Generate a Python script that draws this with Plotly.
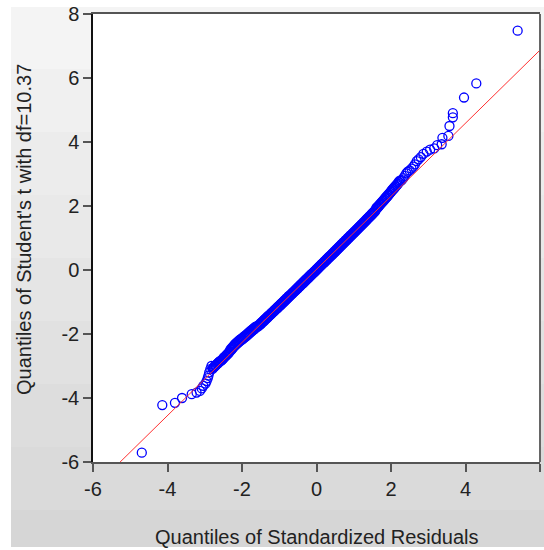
import plotly.graph_objects as go

# ---- data -------------------------------------------------------------
# Lower tail of the QQ plot (standardized residual quantile, t quantile)
lower_x = [-4.69, -4.14, -3.80, -3.61, -3.35, -3.22, -3.13, -3.08, -3.04,
           -2.98, -2.95, -2.92, -2.90, -2.88, -2.85, -2.82]
lower_y = [-5.71, -4.22, -4.15, -4.00, -3.88, -3.83, -3.78, -3.70, -3.62,
           -3.55, -3.47, -3.38, -3.30, -3.20, -3.10, -3.00]

# Dense central part of the QQ plot
body_x = [-2.79, -2.76, -2.72, -2.70, -2.66, -2.63, -2.61, -2.57, -2.53, -2.50,
          -2.48, -2.44, -2.41, -2.38, -2.35, -2.33, -2.29, -2.27, -2.24, -2.21,
          -2.19, -2.16, -2.13, -2.10, -2.07, -2.04, -2.01, -1.98, -1.95, -1.92,
          -1.89, -1.86, -1.83, -1.80, -1.77, -1.74, -1.71, -1.68, -1.65, -1.62,
          -1.59, -1.56, -1.53, -1.50, -1.47, -1.44, -1.41, -1.38, -1.35, -1.32,
          -1.29, -1.26, -1.23, -1.20, -1.17, -1.14, -1.11, -1.08, -1.05, -1.02,
          -0.99, -0.96, -0.93, -0.90, -0.87, -0.84, -0.81, -0.78, -0.75, -0.72,
          -0.69, -0.66, -0.63, -0.60, -0.57, -0.54, -0.51, -0.48, -0.45, -0.42,
          -0.39, -0.36, -0.33, -0.30, -0.27, -0.24, -0.21, -0.18, -0.15, -0.12,
          -0.09, -0.06, -0.03, 0.00, 0.03, 0.06, 0.09, 0.12, 0.15, 0.18,
          0.21, 0.24, 0.27, 0.30, 0.33, 0.36, 0.39, 0.42, 0.45, 0.48,
          0.51, 0.54, 0.57, 0.60, 0.63, 0.66, 0.69, 0.72, 0.75, 0.78,
          0.81, 0.84, 0.87, 0.90, 0.93, 0.96, 0.99, 1.02, 1.05, 1.08,
          1.11, 1.14, 1.17, 1.20, 1.23, 1.26, 1.29, 1.32, 1.35, 1.38,
          1.41, 1.44, 1.47, 1.50, 1.53, 1.56, 1.59, 1.62, 1.65, 1.68,
          1.71, 1.74, 1.77, 1.80, 1.83, 1.86, 1.89, 1.92, 1.95, 1.98,
          2.01, 2.04, 2.07, 2.10, 2.13, 2.16, 2.19, 2.22, 2.25]
body_y = [-3.09, -3.04, -3.00, -2.97, -2.93, -2.90, -2.87, -2.84, -2.80, -2.76,
          -2.73, -2.69, -2.65, -2.62, -2.58, -2.54, -2.50, -2.47, -2.43, -2.39,
          -2.36, -2.33, -2.30, -2.27, -2.24, -2.21, -2.18, -2.16, -2.13, -2.10,
          -2.07, -2.04, -2.01, -1.98, -1.95, -1.92, -1.89, -1.86, -1.83, -1.79,
          -1.76, -1.73, -1.70, -1.66, -1.63, -1.60, -1.56, -1.53, -1.50, -1.46,
          -1.43, -1.40, -1.36, -1.33, -1.30, -1.26, -1.23, -1.20, -1.16, -1.13,
          -1.10, -1.06, -1.03, -1.00, -0.96, -0.93, -0.89, -0.86, -0.82, -0.79,
          -0.76, -0.72, -0.69, -0.66, -0.62, -0.59, -0.55, -0.52, -0.48, -0.45,
          -0.42, -0.38, -0.35, -0.31, -0.28, -0.25, -0.21, -0.18, -0.14, -0.11,
          -0.08, -0.04, -0.01, 0.03, 0.06, 0.10, 0.13, 0.17, 0.20, 0.23,
          0.27, 0.30, 0.34, 0.37, 0.41, 0.44, 0.47, 0.51, 0.54, 0.58,
          0.61, 0.65, 0.68, 0.72, 0.75, 0.79, 0.82, 0.86, 0.89, 0.93,
          0.96, 1.00, 1.03, 1.07, 1.10, 1.14, 1.17, 1.21, 1.24, 1.28,
          1.31, 1.35, 1.38, 1.42, 1.45, 1.49, 1.52, 1.56, 1.60, 1.63,
          1.67, 1.70, 1.74, 1.78, 1.81, 1.85, 1.89, 1.92, 1.96, 2.00,
          2.04, 2.08, 2.12, 2.16, 2.20, 2.24, 2.28, 2.32, 2.36, 2.41,
          2.45, 2.49, 2.53, 2.57, 2.61, 2.65, 2.70, 2.74, 2.78]

# Further residuals packed inside the same band
band_x = [-2.775, -2.74, -2.71, -2.68, -2.645, -2.62, -2.59, -2.55, -2.515, -2.49,
          -2.46, -2.425, -2.395, -2.365, -2.34, -2.31, -2.28, -2.255, -2.225, -2.20,
          -2.175, -2.145, -2.115, -2.085, -2.055, -2.025, -1.995, -1.965, -1.935, -1.905,
          -1.875, -1.845, -1.815, -1.785, -1.755, -1.725, -1.695, -1.665, -1.635, -1.605,
          -1.575, -1.545, -1.515, -1.485, -1.455, -1.425, -1.395, -1.365, -1.335, -1.305,
          -1.275, -1.245, -1.215, -1.185, -1.155, -1.125, -1.095, -1.065, -1.035, -1.005,
          -0.975, -0.945, -0.915, -0.885, -0.855, -0.825, -0.795, -0.765, -0.735, -0.705,
          -0.675, -0.645, -0.615, -0.585, -0.555, -0.525, -0.495, -0.465, -0.435, -0.405,
          -0.375, -0.345, -0.315, -0.285, -0.255, -0.225, -0.195, -0.165, -0.135, -0.105,
          -0.075, -0.045, -0.015, 0.015, 0.045, 0.075, 0.105, 0.135, 0.165, 0.195,
          0.225, 0.255, 0.285, 0.315, 0.345, 0.375, 0.405, 0.435, 0.465, 0.495,
          0.525, 0.555, 0.585, 0.615, 0.645, 0.675, 0.705, 0.735, 0.765, 0.795,
          0.825, 0.855, 0.885, 0.915, 0.945, 0.975, 1.005, 1.035, 1.065, 1.095,
          1.125, 1.155, 1.185, 1.215, 1.245, 1.275, 1.305, 1.335, 1.365, 1.395,
          1.425, 1.455, 1.485, 1.515, 1.545, 1.575, 1.605, 1.635, 1.665, 1.695,
          1.725, 1.755, 1.785, 1.815, 1.845, 1.875, 1.905, 1.935, 1.965, 1.995,
          2.025, 2.055, 2.085, 2.115, 2.145, 2.175, 2.205, 2.235]
band_y = [-3.06, -3.02, -2.98, -2.95, -2.91, -2.88, -2.85, -2.82, -2.78, -2.74,
          -2.71, -2.67, -2.63, -2.60, -2.56, -2.48, -2.44, -2.41, -2.37, -2.33,
          -2.30, -2.27, -2.24, -2.21, -2.18, -2.15, -2.13, -2.10, -2.07, -2.04,
          -2.01, -1.98, -1.95, -1.92, -1.89, -1.86, -1.83, -1.80, -1.77, -1.77,
          -1.77, -1.74, -1.71, -1.68, -1.64, -1.61, -1.58, -1.54, -1.51, -1.48,
          -1.44, -1.41, -1.38, -1.34, -1.31, -1.28, -1.24, -1.21, -1.18, -1.14,
          -1.11, -1.08, -1.04, -1.01, -0.98, -0.94, -0.91, -0.87, -0.84, -0.80,
          -0.77, -0.74, -0.70, -0.67, -0.64, -0.60, -0.57, -0.53, -0.50, -0.46,
          -0.43, -0.40, -0.36, -0.33, -0.29, -0.26, -0.23, -0.19, -0.16, -0.12,
          -0.09, -0.06, -0.02, 0.01, 0.05, 0.08, 0.12, 0.15, 0.19, 0.22,
          0.25, 0.29, 0.32, 0.36, 0.39, 0.43, 0.46, 0.49, 0.53, 0.56,
          0.60, 0.63, 0.67, 0.70, 0.74, 0.77, 0.81, 0.84, 0.88, 0.91,
          0.95, 0.98, 1.02, 1.05, 1.09, 1.12, 1.16, 1.19, 1.23, 1.26,
          1.30, 1.33, 1.37, 1.40, 1.44, 1.47, 1.51, 1.54, 1.58, 1.62,
          1.65, 1.69, 1.72, 1.76, 1.80, 1.83, 1.94, 1.97, 2.01, 2.05,
          2.09, 2.13, 2.17, 2.21, 2.25, 2.29, 2.33, 2.37, 2.41, 2.46,
          2.50, 2.54, 2.58, 2.62, 2.66, 2.70, 2.75, 2.79]

# Upper tail of the QQ plot
upper_x = [2.29, 2.33, 2.37, 2.41, 2.45, 2.50, 2.55, 2.60, 2.64, 2.69, 2.74,
           2.80, 2.87, 2.96, 3.05, 3.16, 3.24, 3.36, 3.38, 3.54, 3.57, 3.66,
           3.66, 3.96, 4.29, 5.40]
upper_y = [2.81, 2.87, 2.94, 3.02, 3.07, 3.11, 3.17, 3.23, 3.30, 3.40, 3.46,
           3.53, 3.63, 3.70, 3.76, 3.80, 3.90, 3.93, 4.13, 4.19, 4.50, 4.77,
           4.90, 5.39, 5.83, 7.48]

# Reference line through the quartiles
line_intercept = 0.02
line_slope = 1.142
line_x = [-6.5, 6.5]

x_ticks = [-6, -4, -2, 0, 2, 4, 6]
y_ticks = [-6, -4, -2, 0, 2, 4, 6, 8]

x_title = "Quantiles of Standardized Residuals"
y_title = "Quantiles of Student's t with df=10.37"

# ---- figure -----------------------------------------------------------
W, H = 544, 550
L, R, T, B = 93, 4, 14, 88
PW, PH = W - L - R, H - T - B


def px_x(p):
    return (p - L) / PW


def px_y(p):
    return (H - B - p) / PH


pts_x = lower_x + body_x + band_x + upper_x
pts_y = lower_y + body_y + band_y + upper_y

fig = go.Figure()
fig.add_trace(go.Scatter(
    x=pts_x, y=pts_y, mode="markers",
    marker=dict(symbol="circle-open", size=9, color="#0000ff",
                line=dict(width=1.3, color="#0000ff")),
    hoverinfo="skip", cliponaxis=True,
))
fig.add_trace(go.Scatter(
    x=line_x, y=[line_intercept + line_slope * v for v in line_x],
    mode="lines", line=dict(color="#ff3030", width=1),
    hoverinfo="skip",
))

# Graded grey backdrop behind the whole chart
band_edges = [7, 69, 132, 195, 258, 321, 384, 447, 510, 547]
band_colors = ["#f4f4f4", "#f0f0f0", "#ececec", "#e9e9e9", "#e5e5e5",
               "#e1e1e1", "#dddddd", "#dadada", "#d6d6d6"]
shapes = []
for i, c in enumerate(band_colors):
    shapes.append(dict(type="rect", xref="paper", yref="paper",
                       x0=px_x(11), x1=px_x(544),
                       y0=px_y(band_edges[i + 1]), y1=px_y(band_edges[i]),
                       fillcolor=c, line=dict(width=0), layer="below"))
shapes.append(dict(type="rect", xref="paper", yref="paper", x0=0, x1=1, y0=0, y1=1,
                   fillcolor="white", line=dict(width=0), layer="below"))
# right border of the plot frame
shapes.append(dict(type="line", xref="paper", yref="paper", x0=1, x1=1, y0=0, y1=1,
                   line=dict(color="#666666", width=2), layer="above"))

font = dict(family="Liberation Sans, Arial, sans-serif", size=20, color="#222222")

fig.update_layout(
    width=W, height=H,
    margin=dict(l=L, r=R, t=T, b=B, pad=0),
    paper_bgcolor="white", plot_bgcolor="white",
    showlegend=False,
    font=font,
    shapes=shapes,
    xaxis=dict(range=[-6, 6], tickvals=x_ticks, ticktext=[str(v) for v in x_ticks],
               showgrid=False, zeroline=False, showline=True, mirror=True,
               linecolor="#555555", linewidth=2, ticks="outside", ticklen=8,
               tickcolor="#555555", tickwidth=1.5, tickfont=font),
    yaxis=dict(range=[-6, 8], tickvals=y_ticks, ticktext=[str(v) for v in y_ticks],
               showgrid=False, zeroline=False, showline=True, mirror=False,
               linecolor="#111111", linewidth=1.5, ticks="outside", ticklen=8,
               tickcolor="#555555", tickwidth=1.5, tickfont=font),
    annotations=[
        dict(text=x_title, xref="paper", yref="paper", x=0.5, y=px_y(537),
             xanchor="center", yanchor="middle", showarrow=False, font=font),
        dict(text=y_title, xref="paper", yref="paper", x=px_x(24), y=px_y(230),
             xanchor="center", yanchor="middle", textangle=-90, showarrow=False,
             font=font),
    ],
)

fig.write_html("out.html")
